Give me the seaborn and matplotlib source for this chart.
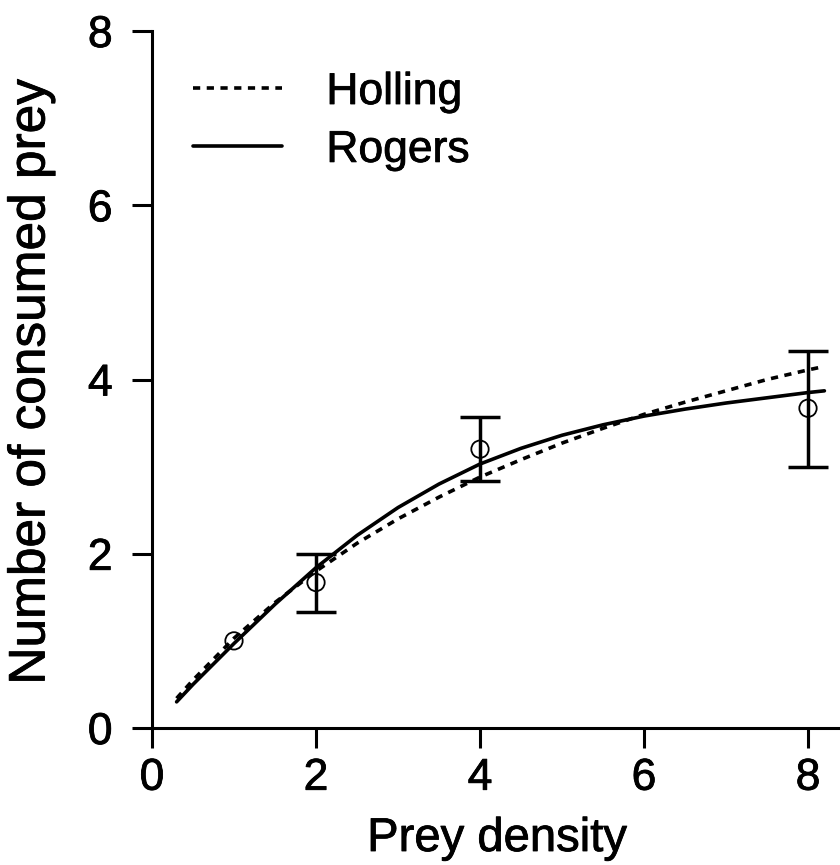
import numpy as np
import pandas as pd
import matplotlib
matplotlib.use("Agg")
import matplotlib.pyplot as plt
import matplotlib.patheffects as pe
import seaborn as sns

# ---- data ----
density = [1, 2, 4, 8]
consumed_mean = [1.0, 1.67, 3.2, 3.67]
consumed_low = [1.0, 1.33, 2.83, 3.0]
consumed_high = [1.0, 2.0, 3.57, 4.33]

curve_x = [0.3, 0.5, 1, 1.5, 2, 2.5, 3, 3.5, 4, 4.5, 5, 5.5, 6, 6.5, 7, 7.5, 8, 8.2]
holling_y = [0.34, 0.55, 1.03, 1.44, 1.80, 2.12, 2.40, 2.65, 2.88, 3.08, 3.27, 3.44,
             3.60, 3.74, 3.87, 4.00, 4.11, 4.15]
rogers_y = [0.30, 0.50, 0.97, 1.42, 1.84, 2.21, 2.53, 2.80, 3.03, 3.21, 3.36, 3.48,
            3.58, 3.66, 3.73, 3.79, 3.85, 3.87]

x_ticks = [0, 2, 4, 6, 8]
y_ticks = [0, 2, 4, 6, 8]
x_ticklabels = ["0", "2", "4", "6", "8"]
y_ticklabels = ["0", "2", "4", "6", "8"]
x_label = "Prey density"
y_label = "Number of consumed prey"
legend_labels = ["Holling", "Rogers"]

# ---- style ----
sns.set_theme(style="ticks")
plt.rcParams["font.family"] = ["Liberation Sans", "DejaVu Sans"]
plt.rcParams["text.color"] = "black"
plt.rcParams["axes.labelcolor"] = "black"
plt.rcParams["xtick.color"] = "black"
plt.rcParams["ytick.color"] = "black"
FS = 32
stroke = [pe.withStroke(linewidth=0.6, foreground="black")]

W, H = 840, 865
fig = plt.figure(figsize=(W / 100, H / 100), dpi=100)
ax_left, ax_bottom = 152 / W, (H - 728) / H
ax_top = (H - 31) / H
xmax = 8.6
ax_w = (xmax * 82.0) / W
ax = fig.add_axes([ax_left, ax_bottom, ax_w, ax_top - ax_bottom])

curves = pd.DataFrame({"x": curve_x, "Holling": holling_y, "Rogers": rogers_y})

sns.lineplot(data=curves, x="x", y="Holling", ax=ax, color="black", lw=2.6,
             linestyle=(0, (2.0, 1.8)), label=legend_labels[0], sort=False,
             estimator=None)
sns.lineplot(data=curves, x="x", y="Rogers", ax=ax, color="black", lw=2.6,
             linestyle="-", label=legend_labels[1], sort=False, estimator=None)

pts = pd.DataFrame({"x": density, "m": consumed_mean,
                    "lo": consumed_low, "hi": consumed_high})
eb = pts[pts["hi"] > pts["lo"]]
ax.errorbar(eb["x"], eb["m"],
            yerr=[eb["m"] - eb["lo"], eb["hi"] - eb["m"]],
            fmt="none", ecolor="black", elinewidth=2.5, capsize=14.4,
            capthick=2.5, zorder=3)
sns.scatterplot(data=pts, x="x", y="m", ax=ax, marker="o", s=12.5 ** 2,
                facecolor="none", edgecolor="black", linewidth=1.3, zorder=4)

ax.set_xlim(0, xmax)
ax.set_ylim(0, 8)
ax.set_xticks(x_ticks)
ax.set_xticklabels(x_ticklabels)
ax.set_yticks(y_ticks)
ax.set_yticklabels(y_ticklabels)
ax.set_xlabel("")
ax.set_ylabel("")

for side in ["top", "right"]:
    ax.spines[side].set_visible(False)
for side in ["left", "bottom"]:
    ax.spines[side].set_linewidth(2.2)
    ax.spines[side].set_color("black")
ax.tick_params(axis="both", direction="out", length=14.4, width=2.2,
               colors="black", labelsize=FS)
ax.tick_params(axis="x", pad=7)
ax.tick_params(axis="y", pad=14)
for t in ax.get_xticklabels() + ax.get_yticklabels():
    t.set_path_effects(stroke)

fig.text(497 / W, 14 / H, x_label, ha="center", va="baseline", fontsize=34,
         color="black", path_effects=stroke)
fig.text(31 / W, (H - 382) / H, y_label, ha="center", va="center",
         rotation=90, fontsize=37, color="black", path_effects=stroke)

leg = ax.legend(loc="upper left", bbox_to_anchor=(193 / W, 1 - 72 / H),
                bbox_transform=fig.transFigure, frameon=False, fontsize=FS,
                handlelength=2.0, handletextpad=1.0, labelspacing=0.38,
                borderpad=0, borderaxespad=0)
for t in leg.get_texts():
    t.set_color("black")
    t.set_path_effects(stroke)

fig.savefig("out.png", dpi=100)
